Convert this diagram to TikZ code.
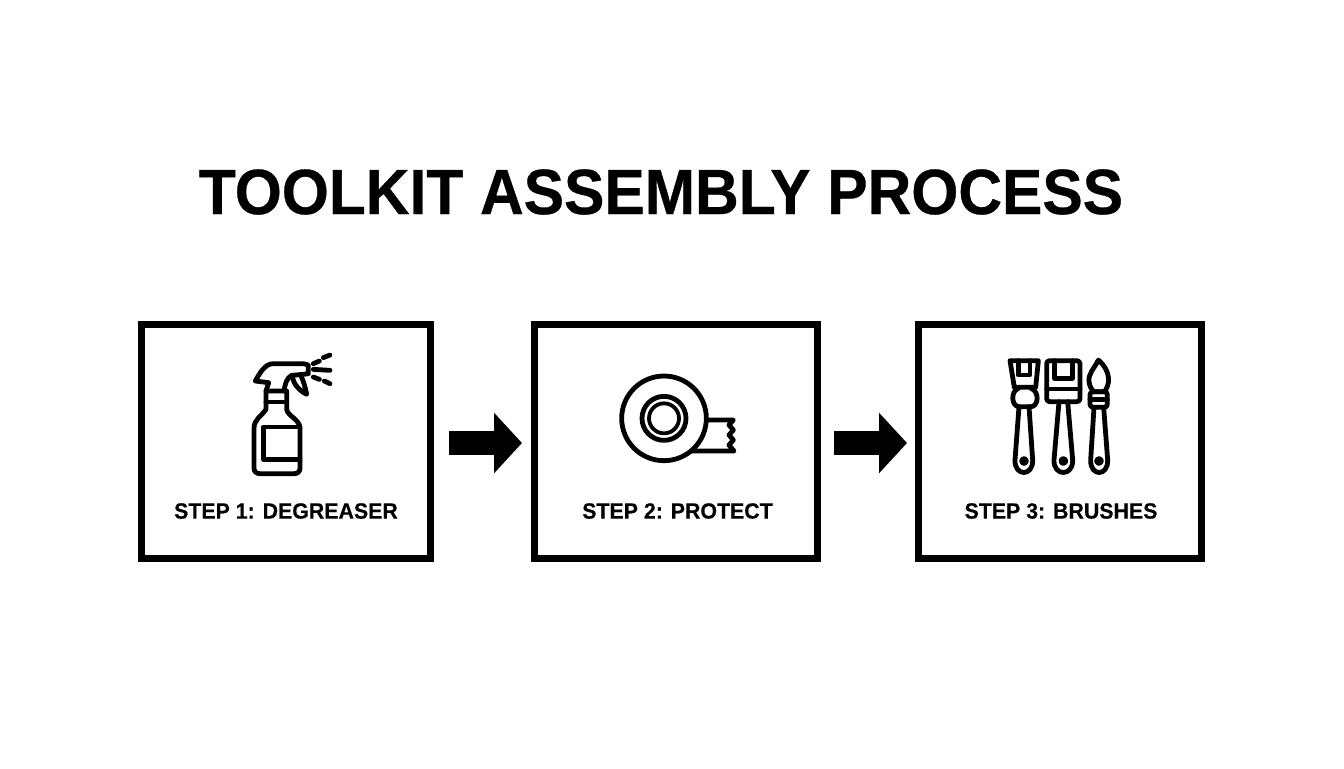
\documentclass[tikz,border=0pt]{standalone}
\usepackage{fontspec}
\setmainfont{Liberation Sans}
\newfontfamily\titlefont[FakeStretch=0.945,FakeBold=0.5]{Liberation Sans}
\newfontfamily\labelfont[FakeStretch=0.97,FakeBold=0.3]{Liberation Sans}
\usetikzlibrary{arrows.meta,positioning}
\tikzset{
    stepbox/.style={draw,line width=3.5pt,minimum width=141.5pt,minimum height=117pt,inner sep=0pt},
    steplabel/.style={font=\labelfont\bfseries\fontsize{11}{14}\selectfont},
    flow/.style={-{Triangle[length=14pt,width=29.5pt]},line width=12pt},
    icon/.style={line width=2.4pt,line join=round,line cap=round}
}

\begin{document}
\begin{tikzpicture}[x=0.5pt,y=-0.5pt]

                \useasboundingbox (0,0) rectangle (1344,768);

                \node (title) at (661,192) {\titlefont\bfseries\fontsize{32}{38}\selectfont TOOLKIT ASSEMBLY PROCESS};

                \node[stepbox,minimum width=144.5pt] (step 1) at (286,441.5) {};
                \node[stepbox] (step 2) [right=48.5pt of step 1] {};
                \node[stepbox] (step 3) [right=47pt of step 2]   {};

                \node[steplabel] (label 1) at (286,511)   {STEP 1: DEGREASER};
                \node[steplabel] (label 2) at (677.5,511) {STEP 2: PROTECT};
                \node[steplabel] (label 3) at (1061,511)  {STEP 3: BRUSHES};

                \draw[flow,shorten <=7.5pt,shorten >=4.5pt] ([yshift=-.75pt]step 1.east) -- ([yshift=-.75pt]step 2.west);
                \draw[flow,shorten <=6.5pt,shorten >=4pt]   ([yshift=-.75pt]step 2.east) -- ([yshift=-.75pt]step 3.west);

                \begin{scope}[shift={(230,341)},scale=1/3,icon]
                    \draw (108,150) -- (108,205) .. controls (95,225) and (72,235) .. (72,262) -- (72,382)
                        .. controls (72,392) and (80,398) .. (90,398) -- (192,398)
                        .. controls (202,398) and (210,392) .. (210,382) -- (210,262)
                        .. controls (210,235) and (172,225) .. (170,205) -- (170,150) -- cycle;
                    \draw (108,183) -- (170,183);
                    \draw (210,258) -- (100,258) -- (100,355) -- (210,355);
                    \draw (108,150) -- (116,125) -- (76,120) .. controls (90,95) and (105,68) .. (130,68) -- (220,68)
                        -- (235,72) -- (235,98) -- (220,100) -- (185,103) .. controls (170,110) and (165,130) .. (162,150);
                    \draw (188,108) .. controls (190,130) and (210,150) .. (230,160) .. controls (225,135) and (220,120) .. (212,102);
                    \draw (250,68) -- (268,60);
                    \draw (280,50) -- (300,42);
                    \draw (250,85) -- (300,88);
                    \draw (250,108) -- (268,115);
                    \draw (283,120) -- (300,128);
                \end{scope}

                \begin{scope}[shift={(610,365)},scale=1/3,icon]
                    \draw (162,160) circle (127);
                    \draw (162,160) circle (66);
                    \draw[line width=1.9pt] (162,160) circle (45);
                    \draw (295,165) -- (370,165) -- (357,180) -- (370,195) -- (357,210) -- (370,225) -- (357,240) -- (372,258) -- (245,258);
                \end{scope}

                \begin{scope}[shift={(995,350)},scale=1/3,icon]
                    \draw (45,32) -- (130,32) -- (122,112) -- (58,112) -- cycle;
                    \draw (70,32) -- (70,75) -- (105,75) -- (105,32);
                    \draw (70,115) .. controls (45,125) and (50,170) .. (72,170) -- (108,170) .. controls (130,170) and (135,125) .. (108,115);
                    \draw (72,170) -- (60,330) .. controls (58,380) and (115,380) .. (113,330) -- (102,170);
                    \draw (87,333) circle (7);

                    \draw[rounded corners=1.5pt] (155,32) -- (255,32) -- (255,155) -- (155,155) -- cycle;
                    \draw (178,32) -- (178,85) -- (232,85) -- (232,32);
                    \draw (155,117) -- (255,117);
                    \draw (192,155) -- (177,330) .. controls (175,380) and (235,380) .. (233,330) -- (218,155);
                    \draw (205,333) circle (7);

                    \draw (310,30) .. controls (295,60) and (280,70) .. (282,95) .. controls (284,110) and (290,118) .. (295,125)
                        -- (328,125) .. controls (345,105) and (350,65) .. cycle;
                    \draw[rounded corners=1.5pt] (285,125) -- (337,125) -- (337,172) -- (285,172) -- cycle;
                    \draw (285,148) -- (337,148);
                    \draw (297,172) -- (287,330) .. controls (285,380) and (340,380) .. (338,330) -- (326,172);
                    \draw (312,333) circle (7);
                \end{scope}

\end{tikzpicture}
\end{document}
